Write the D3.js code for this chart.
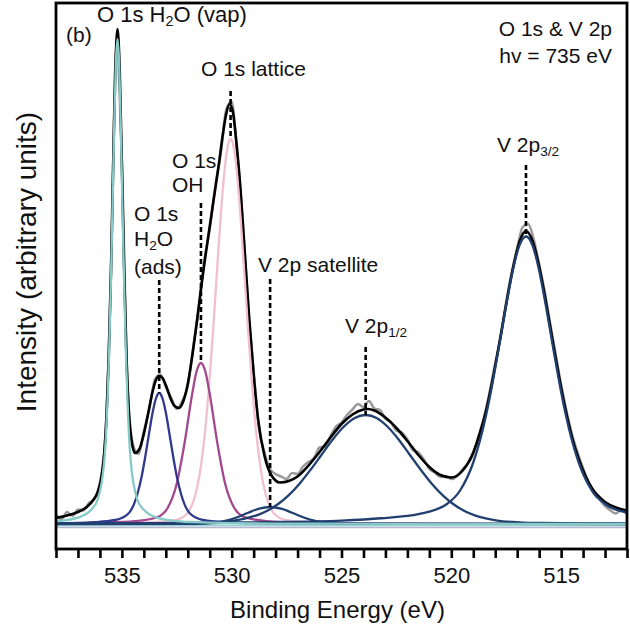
<!DOCTYPE html>
<html>
<head>
<meta charset="utf-8">
<script src="https://cdnjs.cloudflare.com/ajax/libs/d3/7.8.5/d3.min.js"></script>
<style>
  body { margin: 0; background: #fff; }
  text { font-family: "Liberation Sans", Arial, sans-serif; fill: #111; }
</style>
</head>
<body>
<div id="chart"></div>
<script>
const WIDTH = 630;
const HEIGHT = 630;
const LEFT = 56, RIGHT = 627, TOP = 3, BOTTOM = 549;

// fitted components: binding energy (eV) and intensity (arb. units)
const vapEnergy = [538, 537, 536.4, 536.1, 535.8, 535.725, 535.65, 535.575, 535.5, 535.425, 535.35, 535.275, 535.2, 535.125, 535.05, 534.975, 534.9, 534.825, 534.75, 534.675, 534.6, 534.3, 534.0, 533.4, 532.7, 531.7, 530, 527, 522, 512];
const vapIntensity = [0.54, 1.27, 2.84, 4.9, 12.7, 17.6, 25.1, 35.3, 48.5, 63.7, 79.4, 92.1, 97, 92.1, 79.4, 63.7, 48.5, 35.3, 25.1, 17.6, 12.7, 4.9, 2.84, 1.27, 0.69, 0.36, 0.16, 0.07, 0.03, 0.01];

const adsEnergy = [538, 536.3, 535.3, 534.7, 534.3, 534.1, 533.95, 533.8, 533.6, 533.45, 533.3, 533.15, 533.0, 532.8, 532.65, 532.5, 532.3, 531.9, 531.3, 530.3, 528.8, 524, 512];
const adsIntensity = [0.1, 0.35, 0.8, 2.1, 5.9, 9.5, 13.1, 17.1, 22.3, 25.1, 26.2, 25.1, 22.3, 17.1, 13.1, 9.5, 5.9, 2.1, 0.8, 0.35, 0.16, 0.05, 0.01];

const ohEnergy = [538, 535.9, 534.4, 533.4, 532.9, 532.5, 532.15, 531.8, 531.6, 531.4, 531.2, 531.0, 530.65, 530.3, 529.9, 529.4, 528.4, 526.9, 522, 512];
const ohIntensity = [0.12, 0.26, 0.57, 1.35, 3.35, 8.1, 16.1, 26.0, 30.5, 32.2, 30.5, 26.0, 16.1, 8.1, 3.35, 1.35, 0.57, 0.26, 0.07, 0.02];

const latticeEnergy = [538, 535.55, 534.05, 533.25, 532.65, 532.25, 531.95, 531.65, 531.45, 531.25, 531.05, 530.85, 530.65, 530.5, 530.35, 530.2, 530.05, 529.9, 529.75, 529.6, 529.45, 529.25, 529.05, 528.85, 528.65, 528.45, 528.15, 527.85, 527.45, 526.85, 526.05, 524.55, 522.05, 512];
const latticeIntensity = [0.077, 0.16, 0.3, 0.45, 0.72, 1.27, 2.55, 5.89, 10.2, 16.97, 26.5, 38.5, 51.9, 61.5, 69.6, 75.1, 77, 75.1, 69.6, 61.5, 51.9, 38.5, 26.5, 16.97, 10.2, 5.89, 2.55, 1.27, 0.72, 0.45, 0.3, 0.16, 0.076, 0.02];

const satEnergy = [538, 531.75, 530.75, 530.25, 529.75, 529.25, 528.75, 528.25, 527.75, 527.25, 526.75, 526.25, 525.75, 524.75, 512];
const satIntensity = [0, 0.02, 0.26, 0.66, 1.35, 2.26, 3.07, 3.4, 3.07, 2.26, 1.35, 0.66, 0.26, 0.02, 0];

const v12Energy = [538, 535, 532, 530.9, 529.9, 529.4, 528.9, 528.4, 527.9, 527.4, 526.9, 526.4, 525.9, 525.4, 524.9, 524.4, 523.9, 523.4, 522.9, 522.4, 521.9, 521.4, 520.9, 520.4, 519.9, 519.4, 518.9, 517.9, 516.9, 515.9, 512.9, 512];
const v12Intensity = [0.067, 0.107, 0.2, 0.33, 0.69, 1.08, 1.66, 2.6, 3.95, 5.79, 8.12, 10.9, 13.9, 16.9, 19.44, 21.2, 21.8, 21.2, 19.44, 16.9, 13.9, 10.9, 8.12, 5.79, 3.95, 2.6, 1.66, 0.69, 0.33, 0.2, 0.107, 0.09];

const v32Energy = [538, 531, 528.6, 525, 523.2, 521.4, 520.2, 519.6, 519.0, 518.7, 518.4, 518.1, 517.8, 517.5, 517.2, 516.9, 516.6, 516.3, 516.0, 515.7, 515.4, 515.1, 514.8, 514.5, 514.2, 513.6, 513.0, 512];
const v32Intensity = [0.12, 0.2, 0.35, 0.69, 1.15, 2.07, 4.0, 6.7, 12.3, 16.6, 22.1, 28.75, 36.2, 43.8, 50.7, 55.7, 57.5, 55.7, 50.7, 43.8, 36.2, 28.75, 22.1, 16.6, 12.3, 6.7, 4.0, 2.3];

// total fit envelope
const fitEnergy = [538, 537.5, 537, 536.6, 536.3, 536.1, 535.9, 535.8, 535.7, 535.6, 535.5, 535.4, 535.3, 535.2, 535.1, 535.0, 534.9, 534.8, 534.7, 534.6, 534.4, 534.2, 534.0, 533.8, 533.6, 533.45, 533.3, 533.15, 533.0, 532.8, 532.6, 532.4, 532.2, 532.0, 531.8, 531.6, 531.4, 531.2, 531.0, 530.8, 530.6, 530.4, 530.25, 530.1, 529.95, 529.8, 529.6, 529.4, 529.2, 529.0, 528.8, 528.5, 528.2, 527.8, 527.4, 527.0, 526.5, 526.0, 525.5, 525.0, 524.5, 524.0, 523.8, 523.5, 523.0, 522.5, 522.0, 521.5, 521.0, 520.5, 520.0, 519.5, 519.0, 518.7, 518.4, 518.1, 517.8, 517.5, 517.2, 516.9, 516.6, 516.3, 516.0, 515.7, 515.4, 515.1, 514.8, 514.5, 514.2, 513.6, 513.0, 512.5, 512.0];
const fitIntensity = [1.2, 1.7, 2.4, 3.4, 4.8, 6.4, 10.2, 14.4, 21.6, 33.3, 50.3, 71.2, 90.6, 99.0, 90.9, 71.8, 51.3, 34.7, 23.8, 18.0, 14.2, 15.0, 18.0, 22.2, 26.5, 28.8, 29.6, 29.2, 27.8, 25.3, 23.6, 23.2, 24.6, 28.0, 33.5, 40.0, 47.0, 53.5, 59.5, 65.5, 71.5, 78.0, 82.0, 84.0, 82.5, 77.0, 67.0, 54.0, 41.0, 30.0, 21.0, 13.5, 9.8, 8.3, 8.6, 9.5, 11.7, 14.4, 17.3, 20.0, 21.9, 22.9, 23.0, 22.7, 21.3, 19.2, 16.6, 13.8, 11.4, 9.8, 9.3, 10.6, 14.3, 18.1, 23.0, 29.3, 36.5, 44.0, 51.0, 56.4, 58.6, 56.6, 51.5, 44.6, 37.0, 29.6, 22.9, 17.3, 13.0, 7.2, 4.4, 3.3, 2.7];

// measured spectrum, 538 eV down to 512 eV in 0.25 eV steps
const RAW_START = 538, RAW_STEP = 0.25;
const rawIntensity = [
  1.9, 0.9, 2.4, 1.6, 2.9, 2.7, 4.2, 5.0, 8.3, 17.5,
  49.0, 95.5, 72.5, 29.0, 16.0, 14.0, 18.6, 23.0, 28.9, 29.9,
  27.4, 25.2, 23.0, 24.6, 27.6, 35.4, 43.0, 52.5, 59.0, 67.5,
  74.0, 82.8, 84.5, 74.0, 61.0, 43.5, 30.5, 19.0, 14.2, 11.0,
  10.0, 9.5, 9.0, 10.2, 10.0, 11.5, 12.4, 13.2, 15.3, 15.5,
  17.6, 19.5, 20.3, 21.8, 22.9, 24.0, 23.4, 24.6, 23.1, 22.8,
  21.0, 20.4, 18.7, 18.3, 16.9, 14.8, 14.3, 12.9, 11.0, 10.3,
  9.4, 9.6, 9.0, 9.5, 10.9, 12.0, 14.0, 17.8, 21.5, 26.5,
  32.2, 37.4, 44.5, 50.3, 55.2, 59.4, 60.0, 57.0, 52.0, 46.6,
  40.2, 34.0, 27.9, 22.5, 17.9, 14.3, 11.2, 8.2, 6.0, 4.9,
  3.6, 2.7, 2.1, 2.9, 1.9
];

const bgEnergy = [538, 512];
const bgIntensity = [-0.3, -0.3];
const bg2Intensity = [-0.7, -0.7];

const xTicks = d3.range(512, 539);

const svg = d3.select("#chart").append("svg")
  .attr("width", WIDTH)
  .attr("height", HEIGHT);

const x = d3.scaleLinear().domain([538, 512]).range([LEFT, RIGHT]);
const y = d3.scaleLinear().domain([-5, 104.2]).range([BOTTOM, TOP]);

const line = d3.line()
  .x(d => x(d[0]))
  .y(d => y(d[1]))
  .curve(d3.curveMonotoneX);

const pairs = (es, vs) => es.map((e, i) => [e, vs[i]]);

function drawCurve(data, color, width) {
  svg.append("path")
    .datum(data)
    .attr("d", line)
    .attr("fill", "none")
    .attr("stroke", color)
    .attr("stroke-width", width)
    .attr("stroke-linejoin", "round");
}

drawCurve(pairs(bgEnergy, bg2Intensity), "#b9b6d3", 1.5);
drawCurve(pairs(bgEnergy, bgIntensity), "#9fd3d3", 2);

const raw = rawIntensity.map((v, i) => [RAW_START - i * RAW_STEP, v]);
drawCurve(raw, "#9a9a9a", 2.5);
drawCurve(pairs(fitEnergy, fitIntensity), "#000", 2.6);

const components = [
  { e: latticeEnergy, v: latticeIntensity, color: "#f1bfd2" },
  { e: ohEnergy, v: ohIntensity, color: "#a3488f" },
  { e: adsEnergy, v: adsIntensity, color: "#2f3a8e" },
  { e: satEnergy, v: satIntensity, color: "#21406f" },
  { e: v12Energy, v: v12Intensity, color: "#21406f" },
  { e: v32Energy, v: v32Intensity, color: "#21406f" },
  { e: vapEnergy, v: vapIntensity, color: "#86cac7" }
];
components.forEach(c => drawCurve(pairs(c.e, c.v), c.color, 2.3));

// dashed markers from label down to the component maximum
const markers = [
  { e: adsEnergy, v: adsIntensity, top: 280 },
  { e: ohEnergy, v: ohIntensity, top: 203 },
  { e: latticeEnergy, v: latticeIntensity, top: 91 },
  { e: satEnergy, v: satIntensity, top: 279 },
  { e: v12Energy, v: v12Intensity, top: 347 },
  { e: v32Energy, v: v32Intensity, top: 165 }
];
markers.forEach(m => {
  const i = d3.maxIndex(m.v);
  svg.append("line")
    .attr("x1", x(m.e[i])).attr("x2", x(m.e[i]))
    .attr("y1", m.top).attr("y2", y(m.v[i]))
    .attr("stroke", "#000")
    .attr("stroke-width", 2.6)
    .attr("stroke-dasharray", "5,3");
});

// frame
svg.append("rect")
  .attr("x", LEFT).attr("y", TOP)
  .attr("width", RIGHT - LEFT).attr("height", BOTTOM - TOP)
  .attr("fill", "none")
  .attr("stroke", "#000")
  .attr("stroke-width", 2.8);

const xAxis = svg.append("g")
  .attr("transform", `translate(0,${BOTTOM})`)
  .call(d3.axisBottom(x)
    .tickValues(xTicks)
    .tickSize(9)
    .tickSizeOuter(0)
    .tickFormat(d => (d % 5 === 0 ? d : "")));
xAxis.select(".domain").remove();
xAxis.selectAll(".tick line").attr("stroke", "#000").attr("stroke-width", 2.6);
xAxis.selectAll(".tick text")
  .attr("y", 18)
  .attr("font-size", 22)
  .attr("font-family", "Liberation Sans, Arial, sans-serif")
  .attr("fill", "#111");

svg.append("text")
  .attr("x", (LEFT + RIGHT) / 2 - 4)
  .attr("y", 618)
  .attr("text-anchor", "middle")
  .attr("font-size", 24)
  .text("Binding Energy (eV)");

svg.append("text")
  .attr("transform", "translate(36,262) rotate(-90)")
  .attr("text-anchor", "middle")
  .attr("font-size", 28)
  .text("Intensity (arbitrary units)");

// labels: each part is [text, isSubscript]
function label(px, py, parts, size = 21, anchor = "start") {
  const t = svg.append("text")
    .attr("x", px).attr("y", py)
    .attr("font-size", size)
    .attr("text-anchor", anchor);
  let shifted = false;
  parts.forEach(([s, sub]) => {
    const ts = t.append("tspan").text(s);
    if (sub) {
      ts.attr("font-size", size * 0.65).attr("dy", 4);
      shifted = true;
    } else if (shifted) {
      ts.attr("dy", -4);
      shifted = false;
    }
  });
}

label(66, 42, [["(b)"]], 21);
label(97, 22, [["O 1s H"], ["2", true], ["O (vap)"]], 22);
label(201, 76, [["O 1s lattice"]]);
label(172, 168, [["O 1s"]]);
label(172, 192, [["OH"]]);
label(134, 221, [["O 1s"]]);
label(134, 246, [["H"], ["2", true], ["O"]]);
label(134, 274, [["(ads)"]]);
label(258, 272, [["V 2p satellite"]]);
label(345, 333, [["V 2p"], ["1/2", true]]);
label(497, 152, [["V 2p"], ["3/2", true]]);
label(612, 36, [["O 1s & V 2p"]], 21, "end");
label(612, 63, [["hv = 735 eV"]], 21, "end");
</script>
</body>
</html>
